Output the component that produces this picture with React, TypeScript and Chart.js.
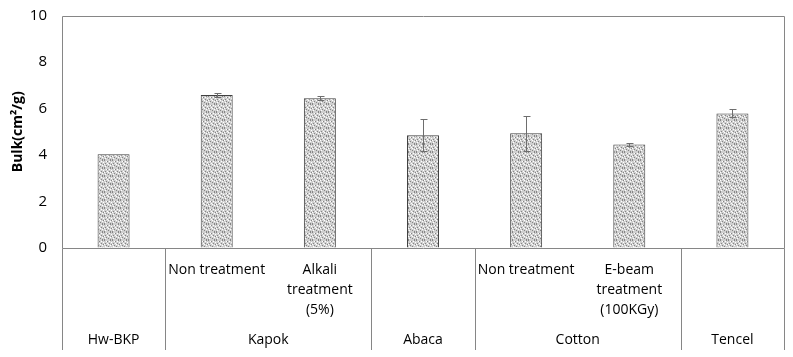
import React, { useEffect, useRef } from "react";
import { Chart, registerables } from "chart.js";

Chart.register(...registerables);

// ---- Data ----
const categories = [
  "Hw-BKP",
  "Kapok Non treatment",
  "Kapok Alkali treatment (5%)",
  "Abaca",
  "Cotton Non treatment",
  "Cotton E-beam treatment (100KGy)",
  "Tencel",
];
const subLabels: string[][] = [
  [],
  ["Non treatment"],
  ["Alkali", "treatment", "(5%)"],
  [],
  ["Non treatment"],
  ["E-beam", "treatment", "(100KGy)"],
  [],
];
const groupLabels = ["Hw-BKP", "Kapok", "Abaca", "Cotton", "Tencel"];
const groupSpans = [1, 2, 1, 2, 1];
const bulkValues = [4.03, 6.58, 6.44, 4.85, 4.94, 4.45, 5.79];
const bulkErrors = [0, 0.07, 0.09, 0.69, 0.75, 0.08, 0.17];
const yMin = 0;
const yMax = 10;
const yStep = 2;

const FONT = "'Open Sans', 'Noto Sans', sans-serif";
const LINE = "#868686";

function makePattern(): CanvasPattern | string {
  const c = document.createElement("canvas");
  c.width = 8;
  c.height = 8;
  const g = c.getContext("2d");
  if (!g) return "#c8c8c8";
  g.fillStyle = "#d0d0d0";
  g.fillRect(0, 0, 8, 8);
  const dark = [
    [0, 0], [3, 1], [6, 0], [1, 3], [5, 3], [2, 5], [7, 4], [4, 6], [0, 7], [6, 7],
  ];
  const light = [
    [2, 1], [5, 1], [0, 4], [3, 3], [6, 5], [1, 6], [4, 4], [7, 2],
  ];
  g.fillStyle = "#858585";
  dark.forEach(([x, y]) => g.fillRect(x, y, 1, 1));
  g.fillStyle = "#ffffff";
  light.forEach(([x, y]) => g.fillRect(x, y, 1, 1));
  const p = g.createPattern(c, "repeat");
  return p || "#c8c8c8";
}

const customPlugin = {
  id: "customDraw",
  afterDatasetsDraw(chart: any) {
    const { ctx, scales } = chart;
    const x = scales.x;
    const y = scales.y;
    ctx.save();
    ctx.strokeStyle = "#6e6e6e";
    ctx.lineWidth = 1;
    bulkValues.forEach((v, i) => {
      const e = bulkErrors[i];
      if (!e) return;
      const px = Math.round(x.getPixelForValue(i)) + 0.5;
      const t = Math.round(y.getPixelForValue(v + e)) + 0.5;
      const b = Math.round(y.getPixelForValue(v - e)) + 0.5;
      ctx.beginPath();
      ctx.moveTo(px, t);
      ctx.lineTo(px, b);
      ctx.moveTo(px - 3, t);
      ctx.lineTo(px + 4, t);
      ctx.moveTo(px - 3, b);
      ctx.lineTo(px + 4, b);
      ctx.stroke();
    });
    ctx.restore();
  },
  afterDraw(chart: any) {
    const { ctx, chartArea, scales } = chart;
    const x = scales.x;
    const n = categories.length;
    const cw = (chartArea.right - chartArea.left) / n;
    const L = Math.round(chartArea.left) + 0.5;
    const R = Math.round(chartArea.right) + 0.5;
    const T = Math.round(chartArea.top) + 0.5;
    const B = Math.round(chartArea.bottom) + 0.5;
    const bottomEnd = 350;
    ctx.save();
    ctx.strokeStyle = LINE;
    ctx.lineWidth = 1;
    ctx.beginPath();
    ctx.rect(L, T, R - L, B - T);
    ctx.stroke();
    // group separators
    let idx = 0;
    const bounds: number[] = [0];
    groupSpans.forEach((s) => {
      idx += s;
      bounds.push(idx);
    });
    ctx.beginPath();
    bounds.forEach((bi) => {
      const px = Math.round(chartArea.left + bi * cw) + 0.5;
      ctx.moveTo(px, B);
      ctx.lineTo(px, bottomEnd);
    });
    ctx.stroke();

    // labels
    ctx.fillStyle = "#000";
    ctx.textAlign = "center";
    ctx.textBaseline = "middle";
    ctx.font = `14px ${FONT}`;
    subLabels.forEach((lines, i) => {
      const cx = x.getPixelForValue(i);
      lines.forEach((ln, j) => {
        ctx.fillText(ln, cx, 270 + j * 20);
      });
    });
    let start = 0;
    groupLabels.forEach((g, gi) => {
      const s = groupSpans[gi];
      const cx = chartArea.left + (start + s / 2) * cw;
      ctx.fillText(g, cx, 340);
      start += s;
    });
    ctx.restore();
  },
};

export default function App() {
  const ref = useRef<HTMLCanvasElement | null>(null);
  useEffect(() => {
    if (!ref.current) return;
    const pattern = makePattern();
    const chart = new Chart(ref.current, {
      type: "bar",
      data: {
        labels: categories,
        datasets: [
          {
            data: bulkValues,
            backgroundColor: pattern as any,
            borderColor: "#404040",
            borderWidth: 1,
            barPercentage: 0.31,
            categoryPercentage: 1,
          },
        ],
      },
      options: {
        responsive: false,
        animation: false,
        devicePixelRatio: 1,
        layout: { padding: { top: 15.5, right: 9, bottom: 109, left: 0 } },
        plugins: {
          legend: { display: false },
          tooltip: { enabled: false },
        },
        scales: {
          x: {
            display: false,
          },
          y: {
            min: yMin,
            max: yMax,
            ticks: {
              stepSize: yStep,
              color: "#000",
              font: { size: 15, family: FONT },
              padding: 0,
            },
            grid: {
              display: true,
              drawOnChartArea: false,
              drawTicks: true,
              tickLength: 15,
              tickColor: "rgba(0,0,0,0)",
              color: "rgba(0,0,0,0)",
            },
            border: { display: false },
            title: {
              display: true,
              text: "Bulk(cm²/g)",
              color: "#000",
              font: { size: 14, weight: "bold", family: FONT },
              padding: { top: 10, bottom: 0 },
            },
            afterFit(scale: any) {
              scale.width = 62;
            },
          },
        },
      },
      plugins: [customPlugin],
    });
    return () => chart.destroy();
  }, []);
  return (
    <div style={{ position: "fixed", left: 0, top: 0, width: 793, height: 357, background: "#fff" }}>
      <canvas ref={ref} width={793} height={357} style={{ display: "block" }} />
    </div>
  );
}
